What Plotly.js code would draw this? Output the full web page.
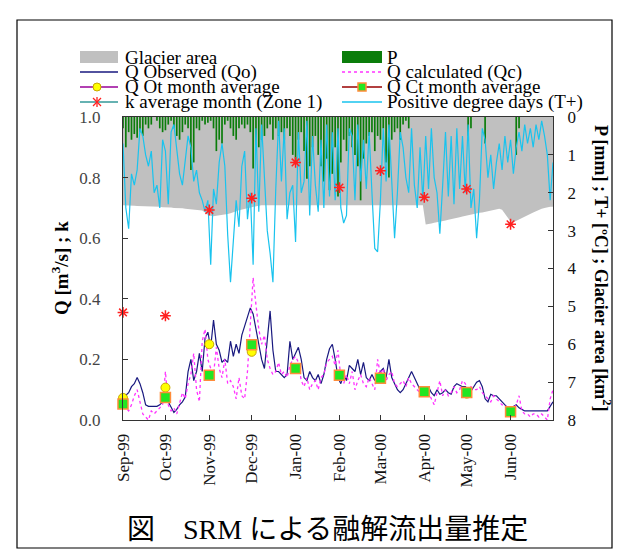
<!DOCTYPE html>
<html><head><meta charset="utf-8">
<script src="https://cdn.plot.ly/plotly-3.0.1.min.js"></script>
<style>html,body{margin:0;padding:0;background:#fff;} #chart{width:634px;height:559px;}</style>
</head><body><div id="chart"></div>
<script>
// ---- data (2-day sampling from 1999-09-01) ----
const startDate = '1999-09-01';
const stepDays = 2;

const qObserved = [
0.073,0.08,0.09,0.11,0.12,0.14,0.12,0.09,0.05,0.045,
0.045,0.045,0.045,0.05,0.06,0.07,0.06,0.04,0.025,0.035,
0.05,0.06,0.076,0.16,0.2,0.13,0.16,0.22,0.16,0.27,
0.29,0.24,0.33,0.25,0.23,0.19,0.2,0.19,0.26,0.21,
0.25,0.22,0.28,0.31,0.34,0.37,0.35,0.3,0.24,0.2,
0.17,0.27,0.36,0.23,0.16,0.16,0.15,0.14,0.15,0.26,
0.2,0.22,0.24,0.2,0.14,0.13,0.16,0.14,0.13,0.15,
0.12,0.15,0.2,0.235,0.25,0.2,0.14,0.12,0.15,0.13,
0.18,0.17,0.16,0.2,0.15,0.19,0.14,0.13,0.15,0.13,
0.15,0.16,0.17,0.14,0.2,0.14,0.12,0.10,0.09,0.10,
0.12,0.14,0.16,0.14,0.12,0.10,0.09,0.09,0.11,0.09,
0.08,0.10,0.085,0.09,0.10,0.09,0.085,0.11,0.12,0.115,
0.11,0.11,0.10,0.095,0.11,0.125,0.13,0.11,0.07,0.06,
0.085,0.08,0.08,0.07,0.06,0.05,0.04,0.035,0.045,0.05,
0.04,0.035,0.03,0.03,0.03,0.03,0.03,0.03,0.03,0.03,
0.03,0.045,0.06];

const qCalculated = [
0.07,0.04,0.03,0.05,0.08,0.1,0.06,0.02,0.01,0.0,
0.03,0.02,0.03,0.04,0.05,0.16,0.05,0.03,0.04,0.02,
0.06,0.09,0.07,0.12,0.15,0.22,0.1,0.06,0.26,0.3,
0.2,0.17,0.15,0.24,0.17,0.14,0.2,0.12,0.13,0.11,
0.07,0.14,0.08,0.07,0.16,0.3,0.47,0.38,0.3,0.25,
0.28,0.2,0.17,0.15,0.16,0.19,0.15,0.16,0.14,0.18,
0.2,0.21,0.19,0.13,0.11,0.14,0.1,0.12,0.13,0.1,
0.14,0.15,0.19,0.2,0.21,0.18,0.23,0.14,0.12,0.15,
0.12,0.16,0.1,0.13,0.15,0.12,0.11,0.14,0.12,0.1,
0.2,0.15,0.17,0.13,0.15,0.16,0.12,0.11,0.12,0.13,
0.11,0.14,0.12,0.11,0.1,0.09,0.1,0.08,0.09,0.07,
0.05,0.09,0.13,0.08,0.1,0.08,0.09,0.11,0.09,0.1,
0.13,0.12,0.1,0.11,0.1,0.1,0.11,0.09,0.08,0.07,
0.06,0.08,0.07,0.06,0.05,0.05,0.04,0.03,0.04,0.05,
0.08,0.03,0.02,0.02,0.01,0.02,0.02,0.01,0.02,0.01,
0.0,0.07,0.1];

const precipitation = [
0.3,0.8,0.4,0.6,0.45,0.55,0.4,0.5,0.2,0.3,
0.2,0,0.1,0.3,0.4,0.35,0.2,0.1,0.3,0.5,
0.6,0.4,0.2,0.3,1.4,1.2,0.3,0.35,0.1,0.2,
0.15,0.1,0.3,0.9,0.6,0.7,0.2,0.1,0.3,0.5,
0.6,0.3,0.2,0.3,0.2,0.4,1.36,0.9,0.8,0.6,
0.5,0.3,0.2,0.6,0.3,0.5,0.4,0.6,0.3,0.5,
1.0,1.2,0.6,0.4,0.9,1.63,1.3,0.8,0.5,1.0,
1.3,1.7,1.1,1.93,1.5,0.8,2.1,1.2,0.6,0.9,
0.5,0.8,1.0,1.3,2.2,1.1,0.7,0.5,0.4,0.9,
0.5,0.6,0.3,1.2,1.6,0.6,0.4,0.3,0.6,0.2,
0.1,0.3,0,0,0,0,0,0,0,0,
0,0,0,0,0,0,0,0,0,0,
0,0,0.5,0.3,0,0,0,0,0.7,0,
0,0,0,0,0,0,0,0,0,1.0,
0.3,0,0,0,0,0,0,0,0,0,
0,0,0];

const positiveDegreeDays = [
0.7,2.4,2.95,1.5,1.8,1.4,0.3,0.5,1.0,1.3,
0.9,2.0,1.8,2.4,0.6,0.9,2.3,0.4,0.2,0.8,
1.5,1.8,1.2,0.5,0.8,1.7,1.4,2.0,2.2,2.5,
2.2,3.9,1.9,2.3,1.2,0.7,1.3,3.1,4.36,3.3,
2.2,2.9,1.3,0.9,2.7,2.0,3.9,0.3,2.5,0.2,
1.7,3.0,3.6,4.36,1.9,0.1,1.7,0.3,2.7,2.0,
1.8,3.3,0.4,2.0,1.7,0.1,2.6,0.5,1.8,2.5,
0.6,2.4,0.2,2.1,0.4,2.2,0.3,2.4,2.8,2.6,
0.3,0.5,2.2,0.2,1.7,0.6,1.9,0.4,2.0,3.47,
3.56,2.2,0.3,1.7,0.2,1.8,3.2,2.0,0.4,0.8,
1.6,2.0,0.3,1.8,2.4,0.8,2.2,0.5,1.9,0.3,
1.6,2.0,3.08,1.8,0.4,2.1,0.5,2.3,0.3,1.9,
0.5,2.0,0.2,2.4,1.9,3.2,2.2,0.3,0.6,1.6,
1.0,1.9,1.2,0.7,1.4,0.5,1.2,0.6,1.5,0.8,
0.4,0.9,0.2,0.7,0.3,0.8,0.2,0.6,0.1,0.5,
1.0,2.2,1.2];

const glacierArea = [
2.33,2.33,2.34,2.34,2.34,2.35,2.35,2.35,2.36,2.36,
2.36,2.37,2.37,2.37,2.38,2.38,2.39,2.39,2.40,2.40,
2.41,2.41,2.42,2.43,2.43,2.44,2.45,2.46,2.47,2.52,
2.58,2.61,2.62,2.61,2.60,2.58,2.57,2.56,2.54,2.52,
2.49,2.46,2.44,2.42,2.40,2.38,2.36,2.35,2.34,2.33,
2.33,2.33,2.33,2.33,2.33,2.33,2.33,2.33,2.33,2.33,
2.33,2.33,2.33,2.33,2.33,2.33,2.33,2.33,2.33,2.33,
2.33,2.33,2.33,2.33,2.33,2.33,2.33,2.33,2.33,2.33,
2.33,2.33,2.33,2.33,2.33,2.33,2.33,2.33,2.33,2.33,
2.33,2.33,2.33,2.33,2.33,2.33,2.33,2.33,2.33,2.33,
2.33,2.33,2.33,2.33,2.33,2.33,2.33,2.84,2.83,2.81,
2.79,2.78,2.76,2.75,2.73,2.71,2.70,2.68,2.66,2.65,
2.63,2.61,2.60,2.58,2.57,2.55,2.53,2.52,2.50,2.48,
2.47,2.45,2.44,2.42,2.45,2.55,2.68,2.76,2.78,2.74,
2.70,2.66,2.63,2.59,2.56,2.52,2.49,2.45,2.42,2.40,
2.38,2.37,2.37];

const monthStarts = ['1999-09-01','1999-10-01','1999-11-01','1999-12-01','2000-01-01',
  '2000-02-01','2000-03-01','2000-04-01','2000-05-01','2000-06-01'];
const monthLabels = ['Sep-99','Oct-99','Nov-99','Dec-99','Jan-00','Feb-00','Mar-00','Apr-00','May-00','Jun-00'];
const qObsMonthAvg  = [0.073,0.107,0.25,0.225,0.17,0.15,0.14,0.095,0.087,0.027];
const qCalcMonthAvg = [0.053,0.074,0.148,0.248,0.17,0.148,0.138,0.093,0.091,0.027];
const kMonthAvg     = [0.355,0.344,0.693,0.732,0.85,0.767,0.823,0.735,0.762,0.646];

// ---- dates for the sampled series ----
const t0 = Date.UTC(1999, 8, 1);
const dates = qObserved.map((_, i) => new Date(t0 + i * stepDays * 86400000).toISOString().slice(0, 10));

// ---- pixel helpers for decorations (plot area 123..553 x 117..420) ----
const L = 123, R = 553, T = 117, B = 420;
const px = v => (v - L) / (R - L);
const py = v => (B - v) / (B - T);

const serif = "'Liberation Serif', 'Times New Roman', 'Noto Sans CJK JP', serif";

const traces = [
  // bottom layer (y): glacier area
  {type:'scatter', x:dates, y:glacierArea, yaxis:'y', mode:'lines', fill:'tozeroy',
   fillcolor:'#c0c0c0', line:{width:0, color:'#c0c0c0'}, name:'Glacier area'},
  // middle layer (y2): precipitation bars and T+
  {type:'bar', x:dates, y:precipitation, yaxis:'y2', width:86400000*1.2,
   marker:{color:'#0b7d0b', line:{width:0}}, name:'P'},
  {type:'scatter', x:dates, y:positiveDegreeDays, yaxis:'y2', mode:'lines',
   line:{color:'#19c3ee', width:1.2}, name:'Positive degree days (T+)'},
  // top layer (y3): discharge and k
  {type:'scatter', x:dates, y:qObserved, yaxis:'y3', mode:'lines',
   line:{color:'#18187f', width:1.2}, name:'Q Observed (Qo)'},
  {type:'scatter', x:dates, y:qCalculated, yaxis:'y3', mode:'lines',
   line:{color:'#ff33ff', width:1.3, dash:'dot'}, name:'Q calculated (Qc)'},
  {type:'scatter', x:monthStarts, y:qObsMonthAvg, yaxis:'y3', mode:'markers', cliponaxis:false,
   marker:{symbol:'circle', size:9, color:'#ffff00', line:{color:'#c8a800', width:1}}, name:'Q Ot month average'},
  {type:'scatter', x:monthStarts, y:qCalcMonthAvg, yaxis:'y3', mode:'markers', cliponaxis:false,
   marker:{symbol:'square', size:10, color:'#22e622', line:{color:'#ff8c3a', width:1.5}}, name:'Q Ct month average'},
  {type:'scatter', x:monthStarts, y:kMonthAvg, yaxis:'y3', mode:'markers', cliponaxis:false,
   marker:{symbol:'asterisk-open', size:9, color:'#ff2020', line:{color:'#ff2020', width:1.5}}, name:'k average month (Zone 1)'}
];

const legendRows = [57, 72, 87, 102];
const c1s = 80, c1e = 118, c1t = 123, c2s = 342, c2e = 382, c2t = 385;
const lineShape = (x0, y0, x1, y1, color, dash, w) => ({type:'line', xref:'paper', yref:'paper',
  x0:px(x0), x1:px(x1), y0:py(y0), y1:py(y1), line:{color:color, width:w||1.5, dash:dash||'solid'}});

const shapes = [
  // outer frame
  {type:'rect', xref:'paper', yref:'paper', x0:px(17), x1:px(612), y0:py(548), y1:py(20),
   line:{color:'#000', width:1.2}, fillcolor:'rgba(0,0,0,0)'},
  // legend symbols
  {type:'rect', xref:'paper', yref:'paper', x0:px(c1s), x1:px(c1e), y0:py(63), y1:py(51), fillcolor:'#c0c0c0', line:{width:0}},
  {type:'rect', xref:'paper', yref:'paper', x0:px(c2s), x1:px(c2e), y0:py(63), y1:py(51), fillcolor:'#0b7d0b', line:{width:0}},
  lineShape(c1s, legendRows[1], c1e, legendRows[1], '#18187f'),
  lineShape(c2s, legendRows[1], c2e, legendRows[1], '#ff33ff', 'dot'),
  lineShape(c1s, legendRows[2], c1e, legendRows[2], '#990099'),
  {type:'circle', xref:'paper', yref:'paper', x0:px(93), x1:px(101), y0:py(91), y1:py(83), fillcolor:'#ffff00', line:{color:'#c8a800', width:1}},
  lineShape(c2s, legendRows[2], c2e, legendRows[2], '#990000'),
  {type:'rect', xref:'paper', yref:'paper', x0:px(358), x1:px(366), y0:py(91), y1:py(83), fillcolor:'#22e622', line:{color:'#ff8c3a', width:1.5}},
  lineShape(c1s, legendRows[3], c1e, legendRows[3], '#339999'),
  lineShape(97, 97, 97, 107, '#ff2020', 'solid', 1.3),
  lineShape(93, 98, 101, 106, '#ff2020', 'solid', 1.3),
  lineShape(93, 106, 101, 98, '#ff2020', 'solid', 1.3),
  lineShape(c2s, legendRows[3], c2e, legendRows[3], '#19c3ee')
];

const legendText = [
  ['Glacier area', c1t, legendRows[0]], ['P', c2t, legendRows[0]],
  ['Q Observed (Qo)', c1t, legendRows[1]], ['Q calculated (Qc)', c2t, legendRows[1]],
  ['Q Ot month average', c1t, legendRows[2]], ['Q Ct month average', c2t, legendRows[2]],
  ['k average month (Zone 1)', c1t, legendRows[3]], ['Positive degree days (T+)', c2t, legendRows[3]]
];
const annotations = legendText.map(([t, x, y]) => ({text:t, xref:'paper', yref:'paper', x:px(x), y:py(y),
  xanchor:'left', yanchor:'middle', showarrow:false, font:{family:serif, size:19, color:'#000'}}));
annotations.push(
  {text:'<b>Q [m<sup>3</sup>/s] ; k</b>', xref:'paper', yref:'paper', x:px(60), y:py(268), textangle:-90,
   xanchor:'center', yanchor:'middle', showarrow:false, font:{family:serif, size:19, color:'#000'}},
  {text:'<b>P [mm] ; T+ [ºC] ; Glacier area [km<sup>2</sup>]</b>', xref:'paper', yref:'paper', x:px(603), y:py(268), textangle:90,
   xanchor:'center', yanchor:'middle', showarrow:false, font:{family:serif, size:18, color:'#000'}},
  {text:'図　SRM による融解流出量推定', xref:'paper', yref:'paper', x:px(327), y:py(529),
   xanchor:'center', yanchor:'middle', showarrow:false, font:{family:serif, size:28, color:'#000'}}
);

const layout = {
  width:634, height:559, margin:{l:L, r:634-R, t:T, b:559-B}, showlegend:false,
  paper_bgcolor:'#fff', plot_bgcolor:'#fff', hovermode:false,
  xaxis:{type:'date', range:['1999-09-01','2000-07-01'], tickvals:monthStarts, ticktext:monthLabels,
    tickangle:-90, ticks:'inside', ticklen:5, tickcolor:'#333', showline:true, linecolor:'#333', linewidth:1,
    mirror:true, showgrid:false, zeroline:false, ticklabelstandoff:6,
    tickfont:{family:serif, size:17, color:'#111'}},
  yaxis:{side:'right', range:[8,0], tick0:0, dtick:1, ticks:'inside', ticklen:5, tickcolor:'#333',
    showline:true, linecolor:'#333', linewidth:1, showgrid:false, zeroline:false, ticklabelstandoff:10,
    tickfont:{family:serif, size:17, color:'#111'}},
  yaxis2:{overlaying:'y', side:'right', range:[8,0], visible:false, showgrid:false, zeroline:false},
  yaxis3:{overlaying:'y', side:'left', range:[0,1], tick0:0, dtick:0.2, tickformat:'.1f', ticks:'inside',
    ticklen:5, tickcolor:'#333', showline:true, linecolor:'#333', linewidth:1, showgrid:false, zeroline:false,
    ticklabelstandoff:18, tickfont:{family:serif, size:17, color:'#444'}},
  shapes:shapes, annotations:annotations
};

Plotly.newPlot('chart', traces, layout, {staticPlot:true, displayModeBar:false});
</script></body></html>
